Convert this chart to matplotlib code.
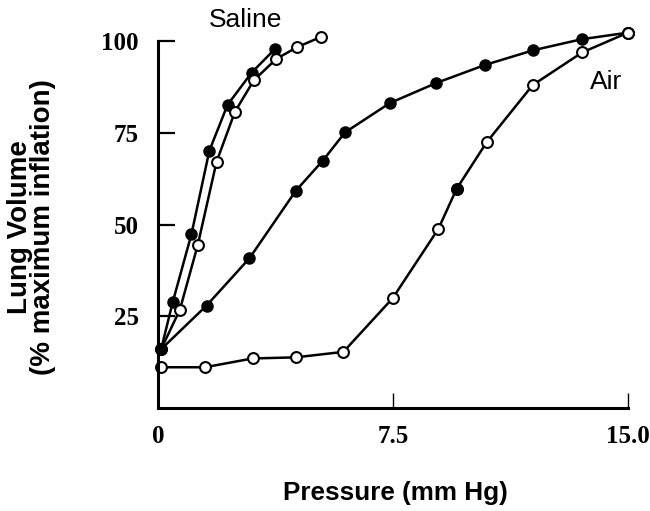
import matplotlib
matplotlib.use("Agg")
import matplotlib.pyplot as plt

# Saline-filled lung: inflation (filled) and deflation (open)
saline_infl_p = [0.1, 0.47, 1.07, 1.64, 2.22, 2.99, 3.73]
saline_infl_v = [16.0, 28.8, 47.4, 70.1, 82.6, 91.4, 97.8]
saline_defl_p = [0.1, 0.70, 1.27, 1.87, 2.46, 3.06, 3.77, 4.43, 5.22]
saline_defl_v = [16.0, 26.8, 44.4, 67.1, 80.8, 89.3, 95.1, 98.3, 101.2]

# Air-filled lung: inflation (filled) and deflation (open)
air_infl_p = [0.1, 1.55, 2.92, 4.40, 5.26, 5.97, 7.40, 8.89, 10.44, 11.98, 13.52, 15.0]
air_infl_v = [16.0, 27.9, 40.8, 59.2, 67.4, 75.1, 83.1, 88.6, 93.5, 97.5, 100.5, 102.3]
air_defl_p = [0.1, 1.50, 3.02, 4.40, 5.92, 7.49, 8.95, 9.53, 10.49, 11.96, 13.54, 15.0]
air_defl_v = [11.1, 11.1, 13.5, 13.8, 15.3, 29.9, 48.8, 59.7, 72.4, 88.0, 96.9, 102.3]

xticks = [0, 7.5, 15.0]
xticklabels = ["0", "7.5", "15.0"]
yticks = [25, 50, 75, 100]

fig = plt.figure(figsize=(6.5, 5.11), dpi=100)
ax = fig.add_axes([0.243, 0.2016, 0.723, 0.718])

line_kw = dict(color="black", lw=1.8, clip_on=False, zorder=2)
filled = dict(marker="o", ms=7.8, mfc="black", mec="black", mew=1.2)
hollow = dict(marker="o", ms=7.8, mfc="white", mec="black", mew=1.5)

ax.plot(saline_infl_p, saline_infl_v, **line_kw, **filled)
ax.plot(saline_defl_p, saline_defl_v, **line_kw, **hollow)
ax.plot(air_infl_p, air_infl_v, **line_kw, **filled)
ax.plot(air_defl_p, air_defl_v, **line_kw, **hollow)
# shared end point drawn open on top, smudged point on the deflation limb drawn solid
ax.plot([air_defl_p[-1]], [air_defl_v[-1]], ls="none", clip_on=False, zorder=3, **hollow)
ax.plot([air_defl_p[7]], [air_defl_v[7]], ls="none", clip_on=False, zorder=3, **filled)

ax.set_xlim(0, 15.0)
ax.set_ylim(0, 100)
for s in ["top", "right"]:
    ax.spines[s].set_visible(False)
for s in ["left", "bottom"]:
    ax.spines[s].set_linewidth(2.2)

ax.set_xticks(xticks)
ax.set_xticklabels(xticklabels)
ax.set_yticks(yticks)
ax.tick_params(axis="y", direction="in", length=12, width=1.6, pad=14)
ax.tick_params(axis="x", direction="in", length=11, width=1.0, pad=12)
for lab in ax.get_xticklabels() + ax.get_yticklabels():
    lab.set_fontfamily("Liberation Serif")
    lab.set_fontweight("bold")
    lab.set_fontsize(18)

fig.text(0.608, 0.035, "Pressure (mm Hg)", ha="center", va="center",
         fontfamily="Liberation Sans", fontweight="bold", fontsize=18.8)
fig.text(0.048, 0.556, "Lung Volume\n(% maximum inflation)", rotation=90,
         ha="center", va="center", fontfamily="Liberation Sans",
         fontweight="bold", fontsize=20, linespacing=0.85)

ax.text(2.81, 103.8, "Saline", fontfamily="Liberation Sans", fontsize=19,
        ha="center", va="baseline")
ax.text(14.3, 88.8, "Air", fontfamily="Liberation Sans", fontsize=19,
        ha="center", va="center")

fig.savefig("out.png", dpi=100)
